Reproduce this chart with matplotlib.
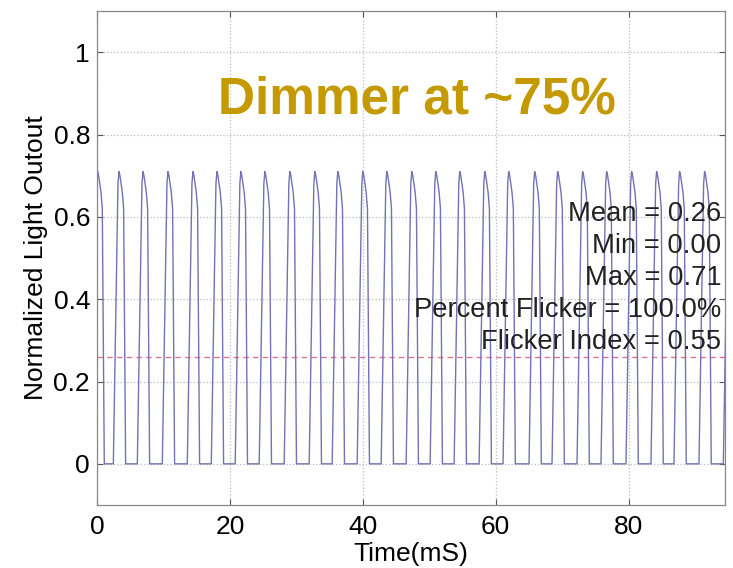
import matplotlib
matplotlib.use("Agg")
import matplotlib.pyplot as plt
from matplotlib import font_manager
import numpy as np

# ---- data ----
peak_times_ms = [0.1, 3.31, 6.92, 10.68, 14.44, 18.05, 21.65, 25.26, 29.02, 32.78,
                 36.24, 40.0, 43.61, 47.37, 50.98, 54.59, 58.35, 61.95, 65.86, 69.32,
                 73.08, 76.69, 80.45, 84.21, 87.67, 91.43, 95.1]
# one pulse shape: time relative to the pulse peak (ms) and normalized level
pulse_offsets_ms = [-0.85, -0.15, 0.0, 0.15, 0.5, 0.7, 1.0]
pulse_levels = [0.0, 0.68, 0.71, 0.70, 0.66, 0.62, 0.0]
mean_level = 0.26
stats_lines = ["Mean = 0.26", "Min = 0.00", "Max = 0.71",
               "Percent Flicker = 100.0%", "Flicker Index = 0.55"]
x_ticks = [0, 20, 40, 60, 80]
y_ticks = [0, 0.2, 0.4, 0.6, 0.8, 1.0]
y_ticklabels = ["0", "0.2", "0.4", "0.6", "0.8", "1"]
title_text = "Dimmer at ~75%"

plt.rcParams['font.family'] = ['Liberation Sans', 'DejaVu Sans']

# prefer Liberation Sans Narrow Bold for the title if it is installed
title_fp = None
for f in font_manager.fontManager.ttflist:
    n = f.fname.lower()
    if "liberationsansnarrow-bold." in n:
        title_fp = font_manager.FontProperties(fname=f.fname, size=45)
        break
if title_fp is None:
    title_fp = font_manager.FontProperties(family=['Liberation Sans', 'DejaVu Sans'],
                                           weight='bold', size=37)

t = []
y = []
for p in peak_times_ms:
    for o, v in zip(pulse_offsets_ms, pulse_levels):
        t.append(p + o)
        y.append(v)

fig = plt.figure(figsize=(7.33, 5.68), dpi=100)
ax = fig.add_axes([0.1323, 0.1109, 0.8568, 0.8697])

ax.plot(t, y, color='#7272b4', lw=1.0)
ax.axhline(mean_level, color='#cc5577', lw=1.0, ls=(0, (4, 3)), alpha=0.8)

ax.set_xlim(0, 94.5)
ax.set_ylim(-0.1, 1.1)
ax.set_xticks(x_ticks)
ax.set_yticks(y_ticks)
ax.set_yticklabels(y_ticklabels)
ax.tick_params(direction='in', length=4, width=0.8, labelsize=19, color='#555555',
               top=True, right=True)
ax.tick_params(axis='x', pad=7)
ax.tick_params(axis='y', pad=5)
ax.grid(True, color='#bbbbbb', ls=':', lw=0.9)
for s in ax.spines.values():
    s.set_color('#888888')
    s.set_linewidth(0.9)

ax.set_xlabel("Time(mS)", fontsize=19)
ax.xaxis.set_label_coords(0.5, -0.075)
ax.set_ylabel("Normalized Light Outout", fontsize=19)
ax.yaxis.set_label_coords(-0.078, 0.5)

ax.text(0.51, 0.82, title_text, transform=ax.transAxes, ha='center', va='center',
        fontproperties=title_fp, color='#c49a00')

for i, line in enumerate(stats_lines):
    ax.text(0.994, 0.59 - i * 0.0649, line, transform=ax.transAxes,
            ha='right', va='center', fontsize=19.7, color='#222222')

fig.savefig("out.png", dpi=100)
